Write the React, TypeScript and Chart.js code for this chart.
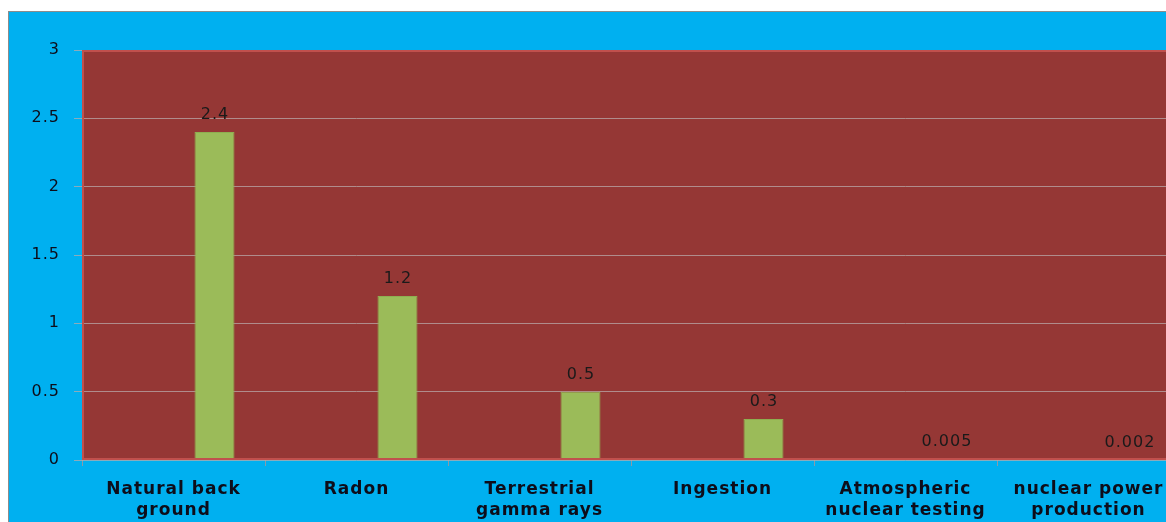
import React, { useEffect, useRef } from "react";
import { Chart, registerables } from "chart.js";

Chart.register(...registerables);

const categories: string[][] = [
  ["Natural back", "ground"],
  ["Radon"],
  ["Terrestrial", "gamma rays"],
  ["Ingestion"],
  ["Atmospheric", "nuclear testing"],
  ["nuclear power", "production"],
];
const doseValues: number[] = [2.4, 1.2, 0.5, 0.3, 0.005, 0.002];
const emptySeries: (number | null)[] = [null, null, null, null, null, null];
const yTicks: number[] = [0, 0.5, 1, 1.5, 2, 2.5, 3];

const spacing = {
  id: "spacing",
  beforeUpdate(chart: any) {
    chart.ctx.letterSpacing = "1px";
  },
  beforeLayout(chart: any) {
    chart.ctx.letterSpacing = "1px";
  },
  beforeDraw(chart: any) {
    chart.ctx.letterSpacing = "1px";
  },
};

const plotBg = {
  id: "plotBg",
  beforeDraw(chart: any) {
    const { ctx, chartArea: a } = chart;
    ctx.save();
    ctx.fillStyle = "#953735";
    ctx.fillRect(a.left, a.top, a.right - a.left, a.bottom - a.top);
    ctx.restore();
  },
  afterDatasetsDraw(chart: any) {
    const { ctx, chartArea: a } = chart;
    ctx.save();
    ctx.strokeStyle = "#c0504d";
    ctx.lineWidth = 2;
    ctx.strokeRect(a.left + 1, a.top + 1, a.right - a.left - 2, a.bottom - a.top - 2);
    ctx.restore();
  },
};

const valueLabels = {
  id: "valueLabels",
  afterDatasetsDraw(chart: any) {
    const { ctx } = chart;
    const meta = chart.getDatasetMeta(1);
    ctx.save();
    ctx.font = '16px "DejaVu Sans"';
    ctx.fillStyle = "#1a1a1a";
    ctx.textAlign = "center";
    ctx.textBaseline = "middle";
    meta.data.forEach((bar: any, i: number) => {
      ctx.fillText(String(doseValues[i]), bar.x + 0.5, bar.y - 17);
    });
    ctx.restore();
  },
};

export default function App() {
  const ref = useRef<HTMLCanvasElement>(null);
  useEffect(() => {
    if (!ref.current) return;
    const chart = new Chart(ref.current, {
      type: "bar",
      data: {
        labels: categories,
        datasets: [
          { label: "blank", data: emptySeries, backgroundColor: "transparent" },
          {
            label: "dose",
            data: doseValues,
            backgroundColor: "#9bbb59",
            borderColor: "#8eae50",
            borderWidth: 1,
          },
        ],
      },
      options: {
        animation: false,
        responsive: false,
        devicePixelRatio: 1,
        categoryPercentage: 0.896,
        barPercentage: 0.488,
        layout: { padding: { top: 38, right: 9, left: 0, bottom: 0 } },
        plugins: { legend: { display: false }, tooltip: { enabled: false } },
        scales: {
          x: {
            offset: true,
            grid: {
              display: true,
              offset: true,
              drawOnChartArea: false,
              tickLength: 6,
              color: "#8a9aaa",
            },
            border: { display: false },
            ticks: {
              padding: 13,
              color: "#0d0d1a",
              font: { family: "DejaVu Sans", size: 17, weight: "bold", lineHeight: 1.25 },
              maxRotation: 0,
              autoSkip: false,
            },
            afterFit(scale: any) {
              scale.height = 72;
            },
          },
          y: {
            min: 0,
            max: 3,
            afterBuildTicks(scale: any) {
              scale.ticks = yTicks.map((v) => ({ value: v }));
            },
            grid: {
              color: "rgba(185,170,170,0.75)",
              tickLength: 8,
              lineWidth: 1,
            },
            border: { display: false },
            ticks: {
              padding: 14,
              color: "#0d0d1a",
              font: { family: "DejaVu Sans", size: 16 },
              callback: (v: any) => String(v),
            },
            afterFit(scale: any) {
              scale.width = 73;
            },
          },
        },
      },
      plugins: [spacing, plotBg, valueLabels],
    } as any);
    return () => chart.destroy();
  }, []);

  return (
    <div
      style={{
        position: "fixed",
        left: 8,
        top: 11,
        width: 1170,
        height: 520,
        overflow: "hidden",
        background: "#00b0f0",
        borderTop: "1px solid #8c8c8c",
        borderLeft: "1px solid #8c8c8c",
      }}
    >
      <canvas ref={ref} width={1180} height={520} style={{ display: "block" }} />
    </div>
  );
}
